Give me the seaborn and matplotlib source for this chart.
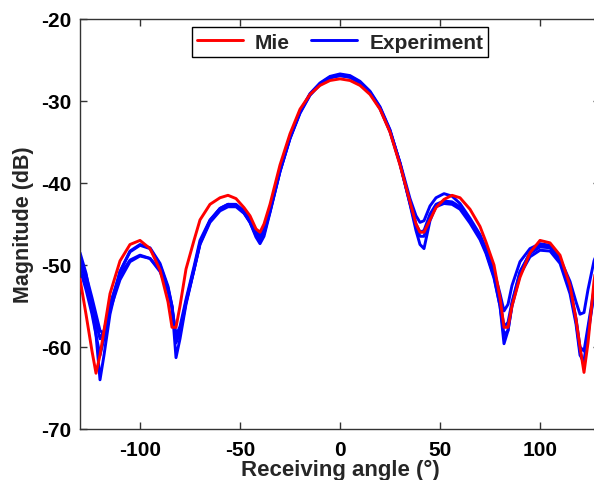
import matplotlib
matplotlib.use("Agg")
import matplotlib.pyplot as plt
import numpy as np
import pandas as pd
import seaborn as sns

# receiving angles (deg), shared by all curves
angles = [-130, -127, -124, -122, -120, -118, -115, -110, -105, -100,
          -95, -90, -86, -84, -82, -80, -77, -73, -70, -65,
          -60, -56, -52, -48, -45, -42, -40, -38, -35, -30,
          -25, -20, -15, -10, -5, 0, 5, 10, 15, 20,
          25, 30, 35, 38, 40, 42, 45, 48, 52, 56,
          60, 65, 70, 73, 77, 80, 82, 84, 86, 90,
          95, 100, 105, 110, 115, 118, 120, 122, 124, 127, 130]

mie = [-51.7, -56.0, -60.5, -63.2, -61.0, -58.0, -53.5, -49.5, -47.5, -47.0,
       -48.0, -50.6, -54.5, -57.6, -57.6, -55.0, -50.5, -47.0, -44.5, -42.6,
       -41.8, -41.5, -41.9, -43.0, -44.0, -45.6, -46.0, -45.0, -42.6, -37.8,
       -34.0, -31.0, -29.2, -28.1, -27.5, -27.3, -27.5, -28.1, -29.2, -31.0,
       -33.8, -37.8, -42.3, -45.0, -46.0, -46.0, -44.5, -43.0, -42.0, -41.5,
       -41.8, -43.2, -45.3, -47.2, -50.0, -54.0, -57.6, -57.6, -55.0, -51.5,
       -48.5, -47.0, -47.3, -48.8, -52.5, -56.6, -60.0, -63.1, -59.5, -52.0, -47.0]

exp_1 = [-48.5, -51.0, -55.0, -58.5, -64.0, -61.0, -56.0, -50.8, -48.3, -47.5,
         -47.9, -49.8, -52.6, -55.0, -61.3, -59.0, -54.8, -50.6, -47.4, -44.6,
         -43.1, -42.6, -42.7, -43.6, -44.8, -46.6, -47.4, -46.5, -43.6, -38.6,
         -34.5, -31.3, -29.1, -27.8, -27.0, -26.7, -26.9, -27.6, -28.8, -30.7,
         -33.5, -37.6, -42.6, -45.8, -47.5, -48.0, -44.6, -42.8, -42.3, -42.4,
         -43.0, -44.7, -46.7, -48.4, -51.4, -55.0, -59.6, -58.0, -54.8, -50.9,
         -48.5, -47.6, -47.8, -49.3, -53.0, -56.8, -60.5, -62.3, -58.5, -53.5, -49.5]

exp_2 = [-49.0, -51.2, -54.0, -56.0, -58.0, -58.4, -54.8, -51.2, -49.4, -48.8,
         -49.2, -50.8, -53.2, -55.2, -58.6, -57.5, -54.2, -50.2, -47.0, -44.5,
         -43.1, -42.6, -42.6, -43.4, -44.4, -45.8, -46.4, -45.6, -43.2, -38.3,
         -34.4, -31.3, -29.2, -27.9, -27.1, -26.9, -27.1, -27.8, -29.0, -30.9,
         -33.7, -37.5, -41.9, -44.0, -44.8, -44.6, -42.8, -41.8, -41.3, -41.6,
         -42.5, -44.3, -46.3, -48.0, -50.7, -53.5, -55.6, -54.8, -52.5, -49.6,
         -48.0, -47.4, -47.6, -49.2, -52.0, -54.5, -56.0, -55.8, -53.0, -49.5, -47.5]

exp_3 = [-49.5, -52.0, -55.0, -57.0, -59.0, -58.0, -55.0, -50.8, -48.4, -47.6,
         -48.0, -50.0, -52.8, -55.0, -58.8, -58.0, -54.5, -50.5, -47.3, -44.6,
         -43.2, -42.7, -42.7, -43.6, -44.7, -46.2, -46.8, -46.0, -43.4, -38.5,
         -34.5, -31.4, -29.2, -27.9, -27.1, -26.8, -27.0, -27.7, -28.9, -30.8,
         -33.6, -37.6, -42.4, -45.0, -46.0, -45.8, -43.8, -42.6, -42.2, -42.3,
         -42.9, -44.6, -46.6, -48.3, -51.2, -54.5, -57.5, -57.0, -54.5, -50.8,
         -48.6, -47.8, -47.9, -49.4, -53.0, -56.5, -60.0, -60.5, -57.5, -53.0, -49.0]

exp_4 = [-50.5, -53.0, -56.0, -58.5, -61.0, -59.0, -55.5, -51.8, -49.6, -48.9,
         -49.2, -50.6, -53.0, -55.2, -59.5, -58.3, -54.6, -50.6, -47.5, -44.8,
         -43.4, -42.9, -42.9, -43.7, -44.8, -46.4, -47.0, -46.2, -43.5, -38.6,
         -34.6, -31.5, -29.3, -28.0, -27.2, -26.9, -27.1, -27.8, -29.0, -30.9,
         -33.7, -37.7, -42.5, -45.3, -46.5, -46.5, -44.2, -42.9, -42.5, -42.6,
         -43.2, -44.9, -46.9, -48.6, -51.6, -55.0, -58.5, -58.0, -55.0, -51.2,
         -49.0, -48.2, -48.3, -49.8, -53.5, -57.2, -61.0, -61.8, -58.0, -53.5, -49.8]

experiments = [exp_1, exp_2, exp_3, exp_4]

sns.set_style("ticks")
plt.rcParams["font.family"] = ["Liberation Sans", "DejaVu Sans"]
plt.rcParams["font.weight"] = "bold"
plt.rcParams["axes.labelweight"] = "bold"
plt.rcParams["axes.unicode_minus"] = False

fig = plt.figure(figsize=(5.94, 4.81), dpi=100)
ax = fig.add_axes([80 / 594, 51 / 481, 520 / 594, 410 / 481])

for i, run in enumerate(experiments):
    df = pd.DataFrame({"angle": angles, "mag": run})
    sns.lineplot(data=df, x="angle", y="mag", color="#0000ff", lw=2.1,
                 label="Experiment" if i == 0 else None, ax=ax, zorder=2)

df_mie = pd.DataFrame({"angle": angles, "mag": mie})
sns.lineplot(data=df_mie, x="angle", y="mag", color="#ff0000", lw=2.1,
             label="Mie", ax=ax, zorder=3)

ax.set_xlim(-130, 130)
ax.set_ylim(-70, -20)
ax.set_xticks([-100, -50, 0, 50, 100])
ax.set_yticks([-70, -60, -50, -40, -30, -20])
ax.set_xlabel("Receiving angle (°)", fontsize=16, fontweight="bold", labelpad=0)
ax.set_ylabel("Magnitude (dB)", fontsize=15.5, fontweight="bold", labelpad=5)
ax.tick_params(direction="in", length=5, width=1, labelsize=15, top=True, right=True,
               colors="#333333", labelcolor="black")
ax.tick_params(axis="x", pad=8)
ax.tick_params(axis="y", pad=6)
for lbl in ax.get_xticklabels() + ax.get_yticklabels():
    lbl.set_fontweight("bold")
for sp in ax.spines.values():
    sp.set_linewidth(1)
    sp.set_color("#333333")

handles, labels = ax.get_legend_handles_labels()
order = [labels.index("Mie"), labels.index("Experiment")]
leg = ax.legend([handles[k] for k in order], [labels[k] for k in order],
                loc="upper center", bbox_to_anchor=(0.5, 1.0), ncol=2,
                fancybox=False, framealpha=1, edgecolor="black",
                prop={"size": 15, "weight": "bold"}, handlelength=2.2,
                columnspacing=1.0, handletextpad=0.6, borderpad=0.25,
                borderaxespad=0.4)
leg.get_frame().set_linewidth(1)

fig.savefig("out.png", dpi=100)
